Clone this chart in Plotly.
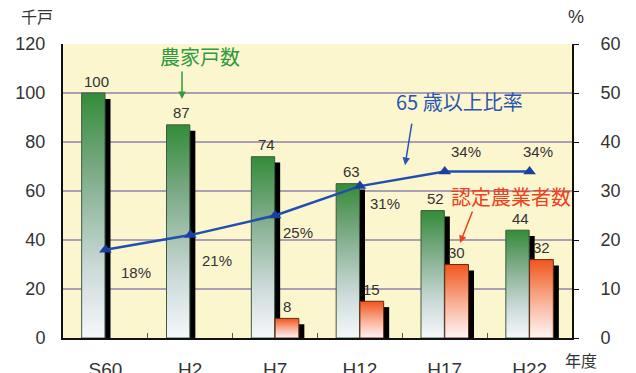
import plotly.graph_objects as go

# ---- data ----
years = ["S60", "H2", "H7", "H12", "H17", "H22"]
farm_households = [100, 87, 74, 63, 52, 44]          # 千戸
certified_farmers = [None, None, 8, 15, 30, 32]      # 千戸
elderly_ratio = [18, 21, 25, 31, 34, 34]             # %
left_ticks = [0, 20, 40, 60, 80, 100, 120]
right_ticks = [0, 10, 20, 30, 40, 50, 60]

FONT = "Liberation Sans, Arial, Noto Sans CJK JP, sans-serif"
CJK = "Noto Sans CJK JP, sans-serif"

GREEN_SCALE = [[0, "#f5f8fb"], [0.3, "#c9d8d6"], [0.7, "#78a882"], [1, "#338c38"]]
ORANGE_SCALE = [[0, "#fff6f6"], [0.45, "#f9b49c"], [1, "#f0561c"]]

fig = go.Figure()


def add_bar(i, value, x0, x1, scale, edge):
    # drop shadow (offset right and down), then the gradient-filled bar
    sx, sy = 0.065, 2.4
    fig.add_trace(go.Scatter(
        x=[x0 + sx, x1 + sx, x1 + sx, x0 + sx, x0 + sx],
        y=[0, 0, value - sy, value - sy, 0],
        fill="toself", fillcolor="#000000", mode="lines",
        line=dict(width=0, color="#000000"), hoverinfo="skip", showlegend=False))
    fig.add_trace(go.Scatter(
        x=[x0, x1, x1, x0, x0],
        y=[0, 0, value, value, 0],
        fill="toself", mode="lines",
        fillgradient=dict(type="vertical", colorscale=scale, start=0, stop=value),
        line=dict(width=1, color=edge), hoverinfo="skip", showlegend=False))


for i, v in enumerate(farm_households):
    add_bar(i, v, i - 0.28, i - 0.005, GREEN_SCALE, "#3d5a40")
for i, v in enumerate(certified_farmers):
    if v is not None:
        add_bar(i, v, i + 0.0, i + 0.28, ORANGE_SCALE, "#6a2a10")

# elderly ratio line on the right axis
fig.add_trace(go.Scatter(
    x=list(range(len(years))), y=elderly_ratio, yaxis="y2",
    mode="lines+markers",
    line=dict(color="#1f4fb0", width=2.5),
    marker=dict(symbol="triangle-up", size=11, color="#1a3f9e"),
    hoverinfo="skip", showlegend=False))

annotations = []
num_font = dict(family=FONT, size=15, color="#333333")

for i, v in enumerate(farm_households):
    annotations.append(dict(x=i - 0.14, y=v, xref="x", yref="y", text=str(v),
                            showarrow=False, yshift=12, xshift=3, font=num_font))
for i, v in enumerate(certified_farmers):
    if v is not None:
        annotations.append(dict(x=i + 0.14, y=v, xref="x", yref="y", text=str(v),
                                showarrow=False, yshift=12, font=num_font))

pct_offsets = [(31, -23), (27, -25), (23, -17), (25, -17), (21, 20), (8, 20)]
for i, (v, (dx, dy)) in enumerate(zip(elderly_ratio, pct_offsets)):
    annotations.append(dict(x=i, y=v, xref="x", yref="y2", text=f"{v}%",
                            showarrow=False, xshift=dx, yshift=dy, font=num_font))


def label(x, y, text, family, size, color):
    return dict(x=x, y=y, xref="paper", yref="paper", text=text, showarrow=False,
                xanchor="center", yanchor="middle",
                font=dict(family=family, size=size, color=color))


def arrow(x, y, ax, ay, color):
    return dict(x=x, y=y, xref="paper", yref="paper", text="", showarrow=True,
                ax=ax, ay=ay, arrowhead=2, arrowsize=1, arrowwidth=1.5, arrowcolor=color)


# series callouts and axis unit captions
annotations += [
    label(0.269, 0.959, "農家戸数", CJK, 20, "#2f9a3e"),
    arrow(0.2338, 0.813, 0, -29, "#2f9a3e"),
    label(0.778, 0.803, "65 歳以上比率", CJK, 20, "#2a55b0"),
    arrow(0.672, 0.588, 7, -43, "#2a55b0"),
    label(0.880, 0.480, "認定農業者数", CJK, 20, "#f04020"),
    arrow(0.78, 0.323, 13, -33, "#f04020"),
    label(-0.051, 1.095, "千戸", CJK, 16, "#333333"),
    label(1.007, 1.092, "%", FONT, 18, "#333333"),
    label(1.0177, -0.075, "年度", CJK, 16, "#333333"),
]

fig.update_layout(
    width=636, height=373,
    margin=dict(l=63, r=64, t=44, b=35, autoexpand=False),
    paper_bgcolor="white",
    plot_bgcolor="#fcf6cf",
    font=dict(family=FONT, color="#333333"),
    showlegend=False,
    annotations=annotations,
    xaxis=dict(
        range=[-0.5, len(years) - 0.5], automargin=False,
        tickmode="array", tickvals=list(range(len(years))), ticktext=years,
        ticks="", showgrid=False, zeroline=False,
        showline=True, linecolor="#111111", linewidth=2,
        tickfont=dict(family=FONT, size=19, color="#333333"),
        ticklabelstandoff=13,
        minor=dict(tickmode="array", tickvals=[i + 0.5 for i in range(len(years) - 1)],
                   ticks="inside", ticklen=5, tickcolor="#555555", tickwidth=1, showgrid=False),
        fixedrange=True,
    ),
    yaxis=dict(
        range=[0, 120], tickmode="array", tickvals=left_ticks, automargin=False,
        showgrid=True, gridcolor="#aaa0b4", gridwidth=1.5, zeroline=False,
        showline=True, linecolor="#111111", linewidth=2, ticks="",
        tickfont=dict(family=FONT, size=18, color="#333333"),
        ticklabelstandoff=12,
        fixedrange=True,
    ),
    yaxis2=dict(
        range=[0, 60], tickmode="array", tickvals=right_ticks, automargin=False,
        overlaying="y", side="right", showgrid=False, zeroline=False,
        showline=True, linecolor="#111111", linewidth=2,
        ticks="outside", ticklen=5, tickcolor="#111111",
        tickfont=dict(family=FONT, size=18, color="#333333"),
        ticklabelstandoff=18,
        fixedrange=True,
    ),
)

fig.write_html("out.html")
